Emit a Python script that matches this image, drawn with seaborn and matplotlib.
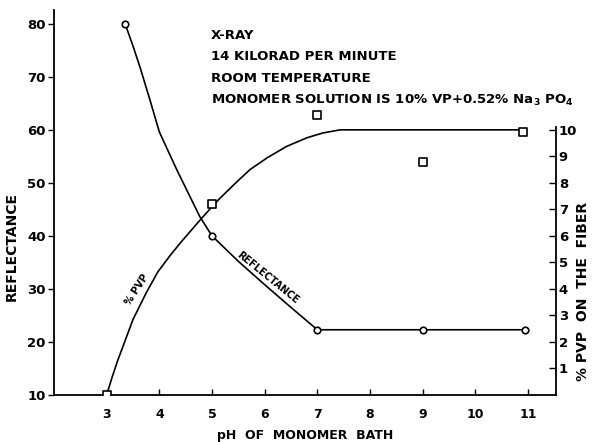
import matplotlib
matplotlib.use("Agg")
import matplotlib.pyplot as plt
import seaborn as sns

# Measured points
refl_ph = [3.35, 5.0, 7.0, 9.0, 10.95]
refl_val = [80, 40, 22.3, 22.3, 22.3]
pvp_ph = [3.0, 5.0, 7.0, 9.0, 10.9]
pvp_val = [0.0, 7.2, 10.55, 8.8, 9.93]

# Drawn (fitted) curves
refl_curve_ph = [3.35, 3.5, 3.63, 3.82, 4.0, 4.33, 4.77, 5.0, 5.5, 6.0, 6.5, 7.0, 11.0]
refl_curve_val = [80, 75.8, 71.9, 65.7, 59.6, 52.5, 43.6, 40, 35.2, 30.8, 26.5, 22.3, 22.3]
pvp_curve_ph = [3.0, 3.1, 3.2, 3.35, 3.5, 3.75, 3.97, 4.2, 4.4, 4.8, 5.0, 5.15, 5.45,
                5.72, 6.05, 6.41, 6.8, 7.1, 7.43, 10.9]
pvp_curve_val = [0.0, 0.65, 1.25, 2.05, 2.85, 3.85, 4.64, 5.25, 5.74, 6.66, 7.1, 7.42, 8.0,
                 8.5, 8.95, 9.37, 9.7, 9.88, 10.0, 10.0]

x_ticks = [3, 4, 5, 6, 7, 8, 9, 10, 11]
left_ticks = [10, 20, 30, 40, 50, 60, 70, 80]
right_ticks = [1, 2, 3, 4, 5, 6, 7, 8, 9, 10]

notes = ["X-RAY", "14 KILORAD PER MINUTE", "ROOM TEMPERATURE",
         r"MONOMER SOLUTION IS 10% VP+0.52% Na$_3$ PO$_4$"]

sns.set_style("ticks")
plt.rcParams['font.family'] = ['DejaVu Sans']
plt.rcParams['font.weight'] = 'bold'
plt.rcParams['mathtext.default'] = 'bf'
for k in ['text.color', 'axes.labelcolor', 'xtick.color', 'ytick.color', 'axes.edgecolor']:
    plt.rcParams[k] = 'black'

fig = plt.figure(figsize=(5.94, 4.42), dpi=100)
ax = fig.add_axes([54/594, 47/442, (556-54)/594, (395-10)/442])
ax2 = ax.twinx()

YMIN, YMAX = 10, 82.6
ax.set_xlim(2, 11.53)
ax.set_ylim(YMIN, YMAX)
ax2.set_ylim(0, (YMAX - YMIN) / 5)

lw = 1.2
sns.lineplot(x=refl_curve_ph, y=refl_curve_val, ax=ax, color="black", lw=lw, sort=False)
sns.scatterplot(x=refl_ph, y=refl_val, ax=ax, marker="o", s=22, facecolor="white",
                edgecolor="black", linewidth=1.2, zorder=5)
sns.lineplot(x=pvp_curve_ph, y=pvp_curve_val, ax=ax2, color="black", lw=lw, sort=False)
sns.scatterplot(x=pvp_ph, y=pvp_val, ax=ax2, marker="s", s=30, facecolor="white",
                edgecolor="black", linewidth=1.2, zorder=5)

ax.spines["top"].set_visible(False)
ax2.spines["top"].set_visible(False)
ax.spines["right"].set_visible(False)
ax2.spines["left"].set_visible(False)
ax2.spines["bottom"].set_visible(False)
ax2.spines["right"].set_bounds(0, 10.1)
for sp in [ax.spines["left"], ax.spines["bottom"], ax2.spines["right"]]:
    sp.set_linewidth(1.3)
    sp.set_color("black")

ax.set_xticks(x_ticks)
ax.set_xticklabels([str(t) for t in x_ticks], fontsize=9, fontweight="bold")
ax.set_yticks(left_ticks)
ax.set_yticklabels([str(t) for t in left_ticks], fontsize=9.5, fontweight="bold")
ax2.set_yticks(right_ticks)
ax2.set_yticklabels([str(t) for t in right_ticks], fontsize=9.5, fontweight="bold")
ax.tick_params(axis="x", direction="in", length=4, width=1, pad=9, colors="black")
ax.tick_params(axis="y", direction="out", length=4, width=1, pad=2, colors="black")
ax2.tick_params(axis="y", direction="in", length=5, width=1, pad=2, colors="black")

ax.set_xlabel("pH  OF  MONOMER  BATH", fontsize=9, fontweight="bold", labelpad=6)
ax.set_ylabel("REFLECTANCE", fontsize=10, fontweight="bold")
ax.yaxis.set_label_coords(-0.07, 0.387)
ax2.set_ylabel("% PVP  ON  THE  FIBER", fontsize=10, fontweight="bold")
ax2.yaxis.set_label_coords(1.04, 0.27)

ys = [0.935, 0.88, 0.822, 0.765]
for t, yy in zip(notes, ys):
    ax.text(0.313, yy, t, transform=ax.transAxes, fontsize=9.5, fontweight="bold",
            ha="left", va="center", color="black")

ax.text(3.57, 29.8, "% PVP", rotation=57, fontsize=7, fontweight="bold",
        ha="center", va="center", color="black")
ax.text(6.05, 32.1, "REFLECTANCE", rotation=-39, fontsize=7, fontweight="bold",
        ha="center", va="center", color="black")

fig.savefig("out.png", dpi=100)
